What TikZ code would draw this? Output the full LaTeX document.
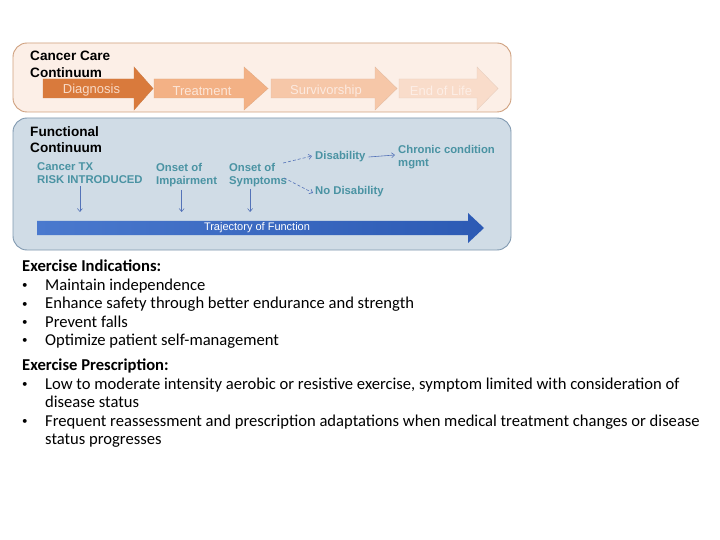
\documentclass[tikz,border=0pt]{standalone}
\usepackage{fontspec}
\setmainfont{Liberation Sans}
\newfontfamily\bodyfont{Carlito}
\usepackage{xcolor}
\usepackage{tikz}
\usetikzlibrary{calc,arrows.meta,positioning}
\definecolor{careline}{HTML}{CFA07E}
\definecolor{carebg}{HTML}{FCEFE7}
\definecolor{funcline}{HTML}{8099B0}
\definecolor{funcbg}{HTML}{D0DCE6}
\definecolor{tealx}{HTML}{4A93A3}
\definecolor{arrx}{HTML}{5473B8}
\definecolor{diagx}{HTML}{D97A3C}
\definecolor{diagt}{HTML}{F8DAC6}
\definecolor{treatx}{HTML}{F3B185}
\definecolor{treatt}{HTML}{FCE6D8}
\definecolor{survx}{HTML}{F6C7A8}
\definecolor{survt}{HTML}{FCEAE0}
\definecolor{endx}{HTML}{F9DCCA}
\definecolor{endt}{HTML}{FDEEE6}
\definecolor{trajl}{HTML}{4A79CE}
\definecolor{trajr}{HTML}{2C5AB4}
\tikzset{
  panel/.style={rounded corners=14pt,line width=0.9pt},
  head/.style={font=\bfseries\fontsize{13.6}{16.5}\selectfont,align=left,anchor=north west,inner sep=0pt},
  lbl/.style={font=\bfseries\fontsize{11.3}{13}\selectfont,tealx,align=left,anchor=north west,inner sep=0pt},
  dn/.style={-{Straight Barb[length=3pt,width=5pt]},arrx,line width=0.6pt},
  dsh/.style={dn,dashed,dash pattern=on 3pt off 2pt},
  blist/.style={font=\bodyfont\fontsize{16.6}{18.4}\selectfont,align=left,anchor=north west,inner sep=0pt}
}
\newcommand{\bul}{\makebox[23pt][l]{\raisebox{1.5pt}{\fontsize{11}{11}\selectfont\textbullet}}}
\begin{document}
\begin{tikzpicture}[x=1pt,y=-1pt]
\useasboundingbox[fill=white] (0,0) rectangle (720,540);
\draw[panel,draw=careline,fill=carebg] (13,43) rectangle (511,112);
\node[head] (care) at (30,51) {Cancer Care\\Continuum};
\foreach \nm/\xa/\xb/\xc/\fc/\tc/\ty/\txt in {diag/43/134/153/diagx/diagt/90/Diagnosis,treat/154/244/268/treatx/treatt/91/Treatment,surv/271/375/397/survx/survt/91/Survivorship,eol/399/477/498/endx/endt/91/End of Life}{
  \filldraw[fill=\fc,draw=\fc!85!gray,line width=0.4pt] (\xa,79)--(\xb,79)--(\xb,67)--(\xc,88.5)--(\xb,110)--(\xb,98)--(\xa,98)--cycle;
  \node[font=\fontsize{13}{15}\selectfont,text=\tc] (\nm) at ({(\xa+\xb)/2+3},\ty) {\txt};
}
\draw[panel,draw=funcline,fill=funcbg] (13,118) rectangle (511,250);
\node[head] (func) at (30,126) {Functional\\Continuum};
\node[lbl] (ctx) at (37,162) {Cancer TX\\RISK INTRODUCED};
\node[lbl] (imp) at (156,163) {Onset of\\Impairment};
\node[lbl] (sym) at (229,163) {Onset of\\Symptoms};
\node[lbl,anchor=west] (dis) at (315,157) {Disability};
\node[lbl,anchor=west] (nodis) at (315,192) {No Disability};
\node[lbl] (chron) at (398,145) {Chronic condition\\mgmt};
\shade[left color=trajl,right color=trajr] (37,221)--(468,221)--(468,213)--(484,228)--(468,243)--(468,235)--(37,235)--cycle;
\node[font=\fontsize{11}{13}\selectfont,white] (traj) at (257,228) {Trajectory of Function};
\coordinate (tt) at (0,212);
\draw[dn] ([xshift=-10pt,yshift=-3pt]ctx.south) -- ([xshift=-10pt]ctx.south |- tt);
\draw[dn] ([xshift=-5pt,yshift=-3pt]imp.south) -- ([xshift=-5pt]imp.south |- tt);
\draw[dn] ([xshift=-8pt,yshift=-2pt]sym.south) -- ([xshift=-8pt]sym.south |- tt);
\draw[dsh] ([xshift=-4pt,yshift=0pt]sym.north east) -- ([xshift=-3pt,yshift=1pt]dis.west);
\draw[dsh] ([xshift=-3pt,yshift=9pt]sym.south east) -- ([xshift=-2pt,yshift=-1pt]nodis.west);
\draw[dn] ([xshift=3pt]dis.east) -- ([xshift=-3pt,yshift=2pt]chron.west);
\node[blist] (ind) at (22,260) {\textbf{Exercise Indications:}\\
\bul Maintain independence\\
\bul Enhance safety through better endurance and strength\\
\bul Prevent falls\\
\bul Optimize patient self-management};
\node[blist] (presc) at (22,359) {\textbf{Exercise Prescription:}\\
\bul Low to moderate intensity aerobic or resistive exercise, symptom limited with consideration of\\
\hspace*{23pt}disease status\\
\bul Frequent reassessment and prescription adaptations when medical treatment changes or disease\\
\hspace*{23pt}status progresses};
\end{tikzpicture}
\end{document}
